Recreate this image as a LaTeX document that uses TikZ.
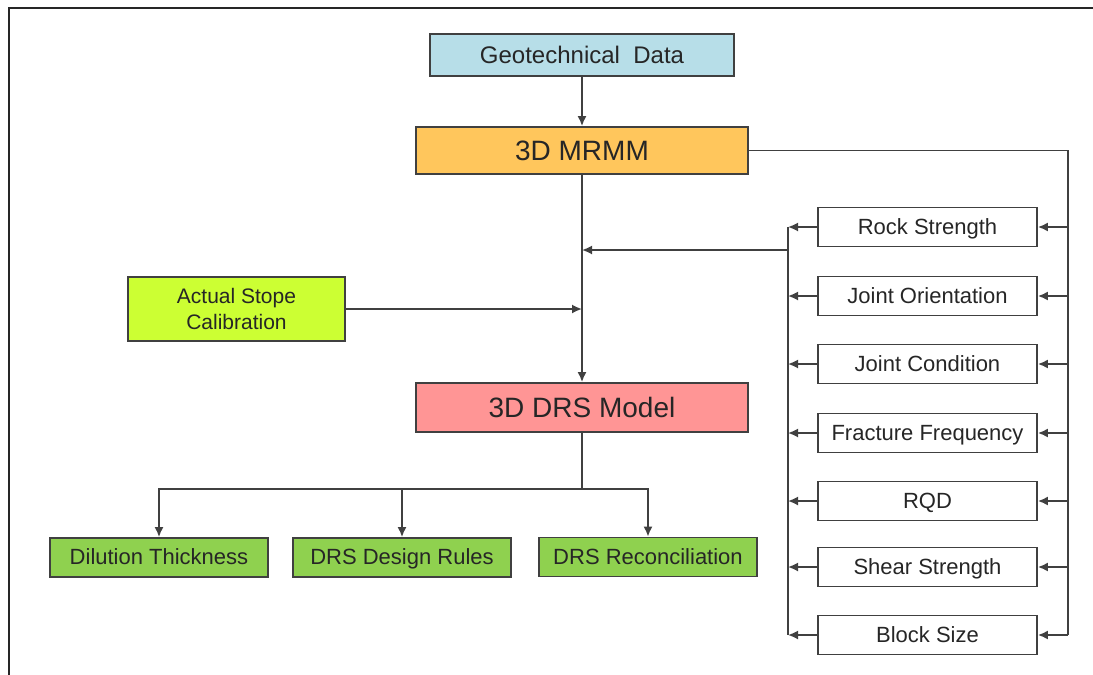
\documentclass[tikz,border=0pt]{standalone}
\usepackage{fontspec}
\setmainfont{Liberation Sans}
\usepackage{xcolor}
\usetikzlibrary{arrows.meta}

\definecolor{geoblue}{HTML}{B7DEE8}
\definecolor{mrmmorange}{HTML}{FFC65C}
\definecolor{drsred}{HTML}{FF9595}
\definecolor{stopelime}{HTML}{CCFF33}
\definecolor{resgreen}{HTML}{8FD14F}
\definecolor{linegray}{HTML}{404040}
\definecolor{txtgray}{HTML}{262626}

\begin{document}
\begin{tikzpicture}[x=0.5pt,y=-0.5pt,
	box/.style={draw=linegray,line width=0.9pt,inner sep=0pt,text=txtgray,
		font=\fontsize{11}{13}\selectfont,align=center},
	bigbox/.style={box,minimum width=166pt,font=\fontsize{14}{16}\selectfont},
	onebox/.style={box,text height=0.72em,text depth=0pt},
	propbox/.style={onebox,fill=white,minimum width=109.5pt,minimum height=19.5pt},
	resbox/.style={onebox,fill=resgreen,minimum width=109pt,minimum height=19.5pt},
	line/.style={draw=linegray,line width=0.85pt},
	arr/.style={line,-{Latex[length=5pt,width=4.5pt]}}]
	\useasboundingbox (0,0) rectangle (1093,675);
	\draw[line width=1pt,black!85] (9,675) -- (9,8) -- (1093,8);

	% main column
	\node[box,fill=geoblue,minimum width=152pt,minimum height=21pt,
		font=\fontsize{12}{14}\selectfont] (geo) at (582,55) {Geotechnical\ \ Data};
	\node[bigbox,fill=mrmmorange,minimum height=23.5pt] (mrmm) at (582,150.5) {3D MRMM};
	\node[bigbox,fill=drsred,minimum height=24.5pt] (drs) at (582,407.5) {3D DRS Model};
	\node[box,fill=stopelime,minimum width=108.5pt,minimum height=32pt,
		font=\fontsize{10.5}{13}\selectfont] (stope) at (236.5,309) {Actual Stope\\Calibration};

	% results
	\node[resbox] (dil) at (159,557.5) {Dilution Thickness};
	\node[resbox] (rules) at (402,557.5) {DRS Design Rules};
	\node[resbox] (recon) at (648,557) {DRS Reconciliation};

	% rock mass properties
	\node[propbox] (rs) at (927.5,227) {Rock Strength};
	\node[propbox] (jo) at (927.5,296) {Joint Orientation};
	\node[propbox] (jc) at (927.5,364) {Joint Condition};
	\node[propbox] (ff) at (927.5,433) {Fracture Frequency};
	\node[propbox] (rqd) at (927.5,501) {RQD};
	\node[propbox] (ss) at (927.5,567) {Shear Strength};
	\node[propbox] (bs) at (927.5,635) {Block Size};

	\coordinate (rbus) at (1068,635);
	\coordinate (ltop) at (788,227);
	\coordinate (lbot) at (788,635);
	\coordinate (lmid) at (788,250);
	\coordinate (split) at (582,489);

	\draw[arr] (geo) -- (mrmm);
	\draw[arr] (mrmm) -- (drs);
	\draw[line] (mrmm.east) -| (rbus);
	\draw[line] (ltop) -- (lbot);
	\draw[arr] (lmid) -- (lmid -| drs.north);
	\draw[arr] (stope.east) -- (stope.east -| drs.north);

	\foreach \p in {rs,jo,jc,ff,rqd,ss,bs}{
		\draw[arr] (rbus |- \p.east) -- (\p.east);
		\draw[arr] (\p.west) -- (ltop |- \p.west);
	}

	\draw[line] (drs) -- (split);
	\foreach \r in {dil,rules,recon}
		\draw[arr] (split) -| (\r.north);
\end{tikzpicture}
\end{document}
